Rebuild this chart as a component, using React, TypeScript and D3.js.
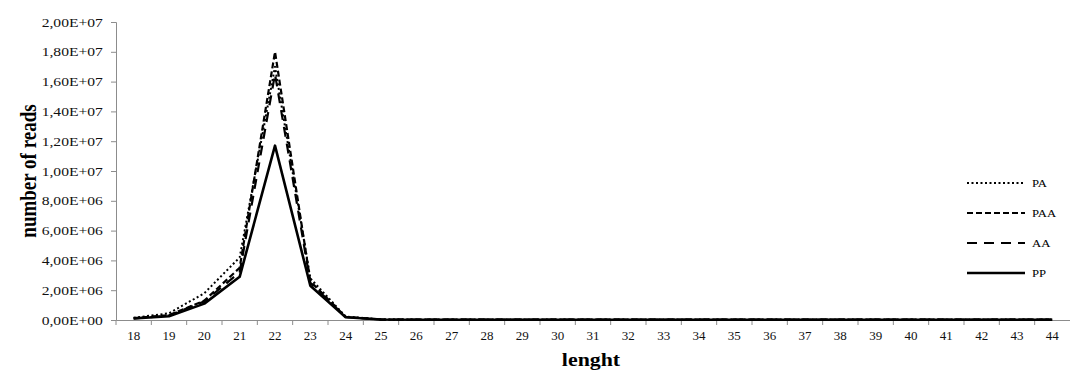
import React, { useEffect, useRef } from "react";
import * as d3 from "d3";

const lengths = d3.range(18, 45).map(String);

const tail = (v: number) => Array(20).fill(v);

const pa = [150000, 450000, 1800000, 4200000, 17000000, 2800000, 230000, 40000, ...tail(20000)].slice(0, 27);
const paa = [120000, 320000, 1300000, 3500000, 18000000, 2600000, 210000, 30000, ...tail(20000)].slice(0, 27);
const aa = [100000, 300000, 1250000, 3200000, 16500000, 2500000, 200000, 30000, ...tail(20000)].slice(0, 27);
const pp = [100000, 250000, 1100000, 2900000, 11700000, 2300000, 180000, 30000, ...tail(20000)].slice(0, 27);

const yTicks = [0, 2e6, 4e6, 6e6, 8e6, 1e7, 1.2e7, 1.4e7, 1.6e7, 1.8e7, 2e7];

const seriesNames = ["PA", "PAA", "AA", "PP"];
const seriesValues = [pa, paa, aa, pp];
const dashes = ["2,2.5", "6,3", "10,7", ""];
const widths = [2, 2.2, 2.2, 2.6];

// Excel style: 2,00E+07
const fmt = (v: number) => {
  const [m, e] = v.toExponential(2).toUpperCase().split("E");
  return `${m.replace(".", ",")}E${e[0]}${e.slice(1).padStart(2, "0")}`;
};

export default function App() {
  const svgRef = useRef<SVGSVGElement>(null);

  useEffect(() => {
    const svg = d3.select(svgRef.current);
    svg.selectAll("*").remove();

    const font = "'Liberation Serif', 'Times New Roman', serif";
    const grey = "#8c8c8c";

    const x = d3.scaleBand().domain(lengths).range([116, 1070]);
    const y = d3.scaleLinear().domain([0, 2e7]).range([320, 22]);

    // y axis
    const yAxis = svg.append("g").attr("transform", "translate(116,0)");
    yAxis.call(d3.axisLeft(y).tickValues(yTicks).tickFormat((d) => fmt(+d)).tickSize(5).tickPadding(6));
    yAxis.select(".domain").attr("stroke", grey);
    yAxis.selectAll(".tick line").attr("stroke", grey);
    yAxis
      .selectAll("text")
      .attr("font-family", font)
      .attr("font-size", 13)
      .attr("fill", "#111")
      .attr("transform", "scale(1.2,1)");

    // x axis, ticks between categories
    const xAxis = svg.append("g").attr("transform", "translate(0,320)");
    xAxis.call(d3.axisBottom(x).tickSize(0).tickPadding(11));
    xAxis.select(".domain").attr("stroke", grey);
    xAxis.selectAll("text").attr("font-family", font).attr("font-size", 13).attr("fill", "#111");
    xAxis
      .selectAll(".sep")
      .data(lengths)
      .enter()
      .append("line")
      .attr("x1", (d) => x(d)!)
      .attr("x2", (d) => x(d)!)
      .attr("y1", 0)
      .attr("y2", 5)
      .attr("stroke", grey);

    // lines
    const line = d3
      .line<number>()
      .x((_, i) => x(lengths[i])! + x.bandwidth() / 2)
      .y((d) => y(d));

    seriesValues.forEach((vals, i) => {
      svg
        .append("path")
        .datum(vals)
        .attr("d", line)
        .attr("fill", "none")
        .attr("stroke", "#000")
        .attr("stroke-width", widths[i])
        .attr("stroke-dasharray", dashes[i])
        .attr("stroke-linejoin", "round");
    });

    // legend
    const leg = svg.append("g");
    seriesNames.forEach((name, i) => {
      const ly = 183 + i * 30;
      leg
        .append("line")
        .attr("x1", 967)
        .attr("x2", 1025)
        .attr("y1", ly)
        .attr("y2", ly)
        .attr("stroke", "#000")
        .attr("stroke-width", widths[i])
        .attr("stroke-dasharray", dashes[i]);
      leg
        .append("text")
        .attr("transform", `translate(1032,${ly + 4}) scale(1.15,1)`)
        .attr("font-family", font)
        .attr("font-size", 11)
        .text(name);
    });

    // titles
    svg
      .append("text")
      .attr("transform", "translate(36,171) rotate(-90) scale(1,1.2)")
      .attr("text-anchor", "middle")
      .attr("font-family", font)
      .attr("font-size", 19)
      .attr("font-weight", "bold")
      .text("number of reads");

    svg
      .append("text")
      .attr("transform", "translate(591,366) scale(1.15,1)")
      .attr("text-anchor", "middle")
      .attr("font-family", font)
      .attr("font-size", 19)
      .attr("font-weight", "bold")
      .text("lenght");
  }, []);

  return (
    <svg
      ref={svgRef}
      width={1070}
      height={374}
      style={{ position: "absolute", left: 0, top: 0, background: "#fff" }}
    />
  );
}
